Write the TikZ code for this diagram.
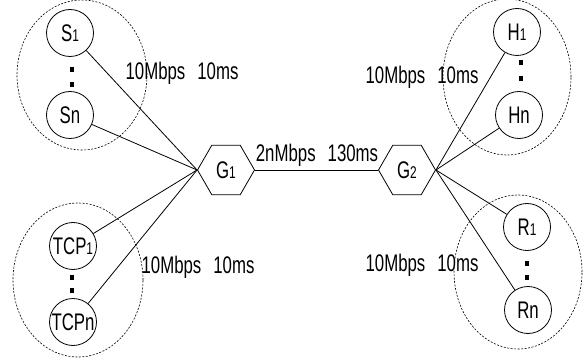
\documentclass[tikz,border=0pt]{standalone}
\usepackage{fontspec}
\setmainfont{Liberation Sans}[FakeStretch=0.7]
\usetikzlibrary{shapes.geometric}
\tikzset{
  txt/.style={font=\fontsize{24}{24}\selectfont},
  host/.style={circle,draw,line width=0.8pt,minimum size=47pt,inner sep=0pt,txt},
  gw/.style={regular polygon,regular polygon sides=6,draw,line width=0.8pt,minimum size=57pt,inner sep=0pt,txt},
  group/.style={ellipse,draw,dashed,dash pattern=on 2pt off 1.5pt,line width=0.6pt,inner sep=0pt},
  vdot/.style={rectangle,fill=black,minimum width=4pt,minimum height=5pt,inner sep=0pt},
  link/.style={line width=0.8pt},
  lbl/.style={txt,inner sep=0pt}
}
\newcommand{\sbs}[1]{{\fontsize{17}{17}\selectfont #1}}
\newcommand{\gap}{\hspace{12pt}}
\begin{document}
\begin{tikzpicture}[x=1pt,y=-1pt]
\useasboundingbox (0,0) rectangle (588,363);

% host groups
\node[group,minimum width=130pt,minimum height=150pt] (gS) at (82,75) {};
\node[group,minimum width=130pt,minimum height=154pt] (gT) at (78,280) {};
\node[group,minimum width=128pt,minimum height=156pt] (gH) at (507,77) {};
\node[group,minimum width=128pt,minimum height=154pt] (gR) at (518,272) {};

% gateways
\node[gw] (G1) at (226,170) {G\sbs{1}};
\node[gw] (G2) at (407,170) {G\sbs{2}};

% end hosts
\node[host] (S1) at (70,33) {S\sbs{1}};
\node[host] (Sn) at (70,115) {Sn};
\node[host] (T1) at (73,246) {TCP\sbs{1}};
\node[host] (Tn) at (73,322) {TCPn};
\node[host] (H1) at (517,32) {H\sbs{1}};
\node[host] (Hn) at (519,115) {Hn};
\node[host] (R1) at (527,227) {R\sbs{1}};
\node[host] (Rn) at (528,310) {Rn};

% ellipsis marks
\node[vdot] (dS1) at (72,70) {};
\node[vdot] (dS2) at (72,85) {};
\node[vdot] (dT1) at (72,277) {};
\node[vdot] (dT2) at (72,290) {};
\node[vdot] (dH1) at (521,63) {};
\node[vdot] (dH2) at (521,79) {};
\node[vdot] (dR1) at (527,263) {};
\node[vdot] (dR2) at (527,277) {};

% links
\draw[link] (G1.east) -- (G2.west);
\foreach \h in {S1,Sn,T1,Tn} \draw[link] (G1.west) -- (\h);
\foreach \h in {H1,Hn,R1,Rn} \draw[link] (G2.east) -- (\h);

% link parameters
\node[lbl] (lS) at (182,73) {10Mbps\gap10ms};
\node[lbl] (lT) at (198,267) {10Mbps\gap10ms};
\node[lbl] (lH) at (422,77) {10Mbps\gap10ms};
\node[lbl] (lR) at (422,265) {10Mbps\gap10ms};
\node[lbl] (lG) at (317,155) {2nMbps\gap130ms};
\end{tikzpicture}
\end{document}
